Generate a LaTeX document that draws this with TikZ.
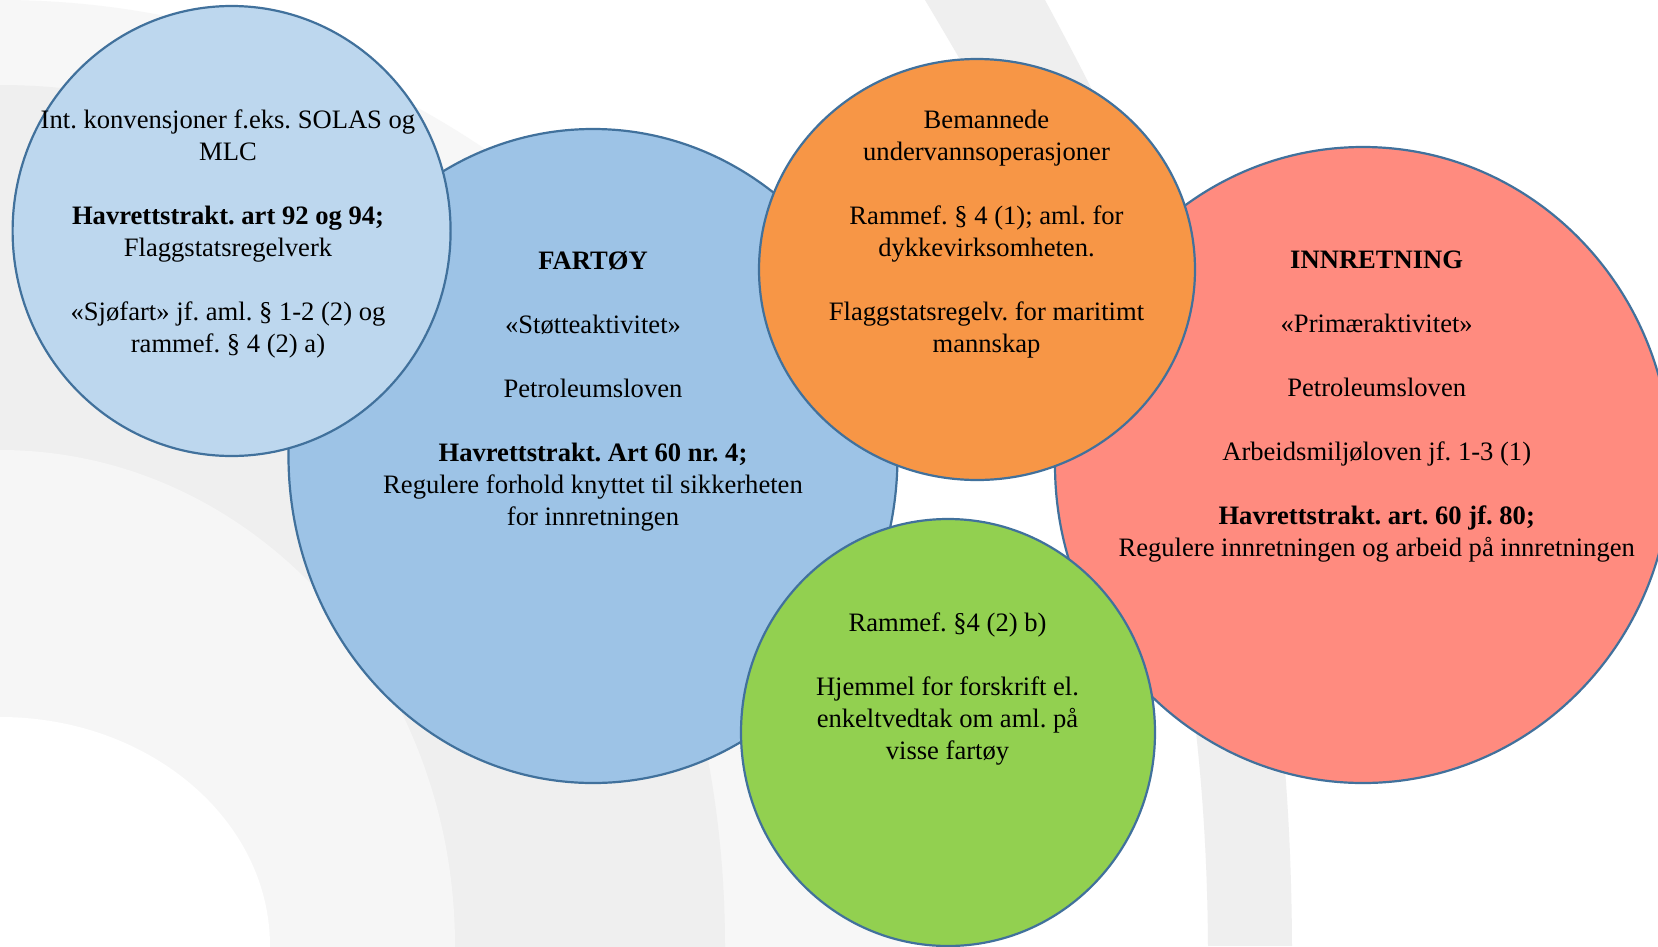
\documentclass[tikz,border=0pt]{standalone}
\usepackage{fontspec}
\setmainfont{Liberation Serif}
\usetikzlibrary{shapes.geometric}
\frenchspacing
\definecolor{cLight}{HTML}{BDD7EE}
\definecolor{cBlue}{HTML}{9DC3E6}
\definecolor{cOrange}{HTML}{F79646}
\definecolor{cRed}{HTML}{FF8B7F}
\definecolor{cGreen}{HTML}{92D050}
\definecolor{cEdge}{HTML}{41719C}
\definecolor{bgA}{HTML}{F7F7F7}
\definecolor{bgB}{HTML}{EFEFEF}
\definecolor{bgC}{HTML}{F6F6F6}
\tikzset{
  bubble/.style={ellipse, draw=cEdge, line width=2.2pt, inner sep=0pt, outer sep=0pt},
  txt/.style={align=center, inner sep=0pt, font=\fontsize{26.6}{32}\selectfont, text=black}
}
\begin{document}
\frenchspacing
\begin{tikzpicture}[x=1pt,y=-1pt]
\useasboundingbox (0,0) rectangle (1658,946);
% background watermark
\fill[white] (0,0) rectangle (1658,946);
\begin{scope}
\clip (0,0) rectangle (1658,946);
\fill[bgA] (0,946) ellipse [x radius=900, y radius=946];
\fill[bgB] (0,946) ellipse [x radius=725, y radius=861];
\fill[bgC] (0,946) ellipse [x radius=455, y radius=496];
\fill[white] (0,946) ellipse [x radius=270, y radius=229];
\fill[bgB] (925,0) .. controls (1080,260) and (1205,500) .. (1208,946) -- (1292,946) .. controls (1290,500) and (1180,250) .. (1045,0) -- cycle;
\end{scope}
% bubbles
\node[bubble, fill=cBlue, minimum width=609pt, minimum height=654pt] (fartoy) at (593,456) {};
\node[bubble, fill=cRed, minimum width=616pt, minimum height=636pt] (innr) at (1363,465) {};
\node[bubble, fill=cLight, minimum width=438pt, minimum height=450pt] (intl) at (231.6,231) {};
\node[bubble, fill=cOrange, minimum width=436pt, minimum height=421pt] (beman) at (977,269.5) {};
\node[bubble, fill=cGreen, minimum width=414pt, minimum height=427pt] (ramme) at (948,732.5) {};
% texts
\node[txt] (tIntl) at (228,234) {Int. konvensjoner f.eks. SOLAS og\\MLC\\[32pt]\textbf{Havrettstrakt. art 92 og 94;}\\Flaggstatsregelverk\\[32pt]«Sjøfart» jf. aml. § 1-2 (2) og\\rammef. § 4 (2) a)};
\node[txt] (tFartoy) at (593,391.5) {\textbf{FARTØY}\\[32pt]«Støtteaktivitet»\\[32pt]Petroleumsloven\\[32pt]\textbf{Havrettstrakt. Art 60 nr. 4;}\\Regulere forhold knyttet til sikkerheten\\for innretningen};
\node[txt] (tBeman) at (986.5,234) {Bemannede\\undervannsoperasjoner\\[32pt]Rammef. § 4 (1); aml. for\\dykkevirksomheten.\\[32pt]Flaggstatsregelv. for maritimt\\mannskap};
\node[txt] (tInnr) at (1376.7,406.5) {\textbf{INNRETNING}\\[32pt]«Primæraktivitet»\\[32pt]Petroleumsloven\\[32pt]Arbeidsmiljøloven jf. 1-3 (1)\\[32pt]\textbf{Havrettstrakt. art. 60 jf. 80;}\\Regulere innretningen og arbeid på innretningen};
\node[txt] (tRamme) at (947.5,688.5) {Rammef. §4 (2) b)\\[32pt]Hjemmel for forskrift el.\\enkeltvedtak om aml. på\\visse fartøy};
\end{tikzpicture}
\end{document}
